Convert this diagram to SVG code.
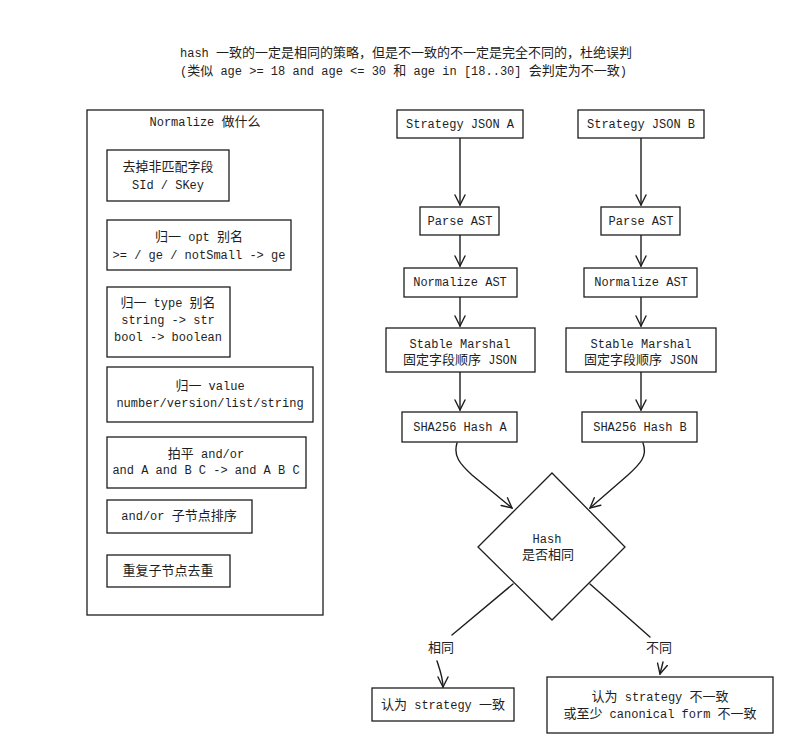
<svg xmlns="http://www.w3.org/2000/svg" width="794" height="754" viewBox="0 0 794 754">
<defs>
<style>
text{font-family:"Liberation Mono","Noto Sans CJK SC",monospace;font-size:12px;fill:#1e1e1e;}
.k{font-size:13px;}
.c{text-anchor:middle;}
.box{fill:#fff;stroke:#1e1e1e;stroke-width:1.3;}
.frame{fill:none;stroke:#1e1e1e;stroke-width:1.3;}
.edge{fill:none;stroke:#1e1e1e;stroke-width:1.4;stroke-linecap:round;}
.arr{marker-end:url(#ah);}
</style>
<marker id="ah" viewBox="0 0 12 12" refX="11" refY="6" markerWidth="12" markerHeight="12" markerUnits="userSpaceOnUse" orient="auto">
<path d="M1,1 L11,6 L1,11" fill="none" stroke="#1e1e1e" stroke-width="1.4" stroke-linecap="round"/>
</marker>
</defs>
<rect width="794" height="754" fill="#fff"/>

<g id="title">
<text x="180" y="57">hash <tspan class="k">一致的一定是相同的策略，但是不一致的不一定是完全不同的，杜绝误判</tspan></text>
<text x="180" y="75">(<tspan class="k">类似</tspan> age &gt;= 18 and age &lt;= 30 <tspan class="k">和</tspan> age in [18..30] <tspan class="k">会判定为不一致</tspan>)</text>
</g>

<g id="normalize-frame">
<rect class="frame" x="87" y="110" width="236" height="505"/>
<text class="c" x="205" y="126">Normalize <tspan class="k">做什么</tspan></text>
</g>
<g id="n1"><rect class="box" x="107" y="150" width="122" height="51"/><text class="c k" x="168" y="171">去掉非匹配字段</text><text class="c" x="168" y="189">SId / SKey</text></g>
<g id="n2"><rect class="box" x="107" y="220" width="184" height="50"/><text class="c" x="199" y="241"><tspan class="k">归一</tspan> opt <tspan class="k">别名</tspan></text><text class="c" x="199" y="259">&gt;= / ge / notSmall -&gt; ge</text></g>
<g id="n3"><rect class="box" x="107" y="287" width="123" height="70"/><text class="c" x="168" y="307"><tspan class="k">归一</tspan> type <tspan class="k">别名</tspan></text><text class="c" x="168" y="324">string -&gt; str</text><text class="c" x="168" y="341">bool -&gt; boolean</text></g>
<g id="n4"><rect class="box" x="107" y="367" width="206" height="55"/><text class="c" x="210" y="390"><tspan class="k">归一</tspan> value</text><text class="c" x="210" y="407">number/version/list/string</text></g>
<g id="n5"><rect class="box" x="107" y="437" width="199" height="51"/><text class="c" x="206" y="458"><tspan class="k">拍平</tspan> and/or</text><text class="c" x="206" y="474">and A and B C -&gt; and A B C</text></g>
<g id="n6"><rect class="box" x="107" y="500" width="145" height="33"/><text class="c" x="179" y="520">and/or <tspan class="k">子节点排序</tspan></text></g>
<g id="n7"><rect class="box" x="107" y="555" width="123" height="32"/><text class="c k" x="168" y="575">重复子节点去重</text></g>

<g id="connectors">
<path class="edge arr" d="M460,138 L460,205"/>
<path class="edge arr" d="M460,235 L460,266"/>
<path class="edge arr" d="M460,297 L460,326"/>
<path class="edge arr" d="M460,372 L460,410"/>
<path class="edge arr" d="M641,138 L641,205"/>
<path class="edge arr" d="M641,235 L641,266"/>
<path class="edge arr" d="M641,297 L641,326"/>
<path class="edge arr" d="M641,372 L641,410"/>
<path class="edge arr" d="M457,443 C453,456 460,464 472,475 L512,508"/>
<path class="edge arr" d="M643,443 C648,456 640,464 628,475 L590,508"/>
<path class="edge" d="M513,584 L452,635"/>
<path class="edge arr" d="M437,661 C440,670 443,678 443,687"/>
<path class="edge" d="M590,584 L650,637"/>
<path class="edge arr" d="M663,662 L660,674"/>
</g>

<g id="a1"><rect class="box" x="397" y="110" width="126" height="28"/><text class="c" x="460" y="128">Strategy JSON A</text></g>
<g id="a2"><rect class="box" x="420" y="207" width="79" height="28"/><text class="c" x="460" y="225">Parse AST</text></g>
<g id="a3"><rect class="box" x="404" y="268" width="113" height="29"/><text class="c" x="460" y="286">Normalize AST</text></g>
<g id="a4"><rect class="box" x="386" y="328" width="149" height="44"/><text class="c" x="460" y="348">Stable Marshal</text><text class="c" x="460" y="364"><tspan class="k">固定字段顺序</tspan> JSON</text></g>
<g id="a5"><rect class="box" x="402" y="412" width="115" height="30"/><text class="c" x="460" y="431">SHA256 Hash A</text></g>

<g id="b1"><rect class="box" x="578" y="110" width="126" height="28"/><text class="c" x="641" y="128">Strategy JSON B</text></g>
<g id="b2"><rect class="box" x="601" y="207" width="79" height="28"/><text class="c" x="641" y="225">Parse AST</text></g>
<g id="b3"><rect class="box" x="584" y="268" width="113" height="29"/><text class="c" x="641" y="286">Normalize AST</text></g>
<g id="b4"><rect class="box" x="566" y="328" width="150" height="44"/><text class="c" x="641" y="348">Stable Marshal</text><text class="c" x="641" y="364"><tspan class="k">固定字段顺序</tspan> JSON</text></g>
<g id="b5"><rect class="box" x="582" y="412" width="115" height="30"/><text class="c" x="640" y="431">SHA256 Hash B</text></g>

<g id="decision"><path class="box" d="M552,473 L625,547 L552,620 L478,547 Z"/><text class="c" x="547" y="543">Hash</text><text class="c k" x="548" y="559">是否相同</text></g>

<g id="labels">
<text class="c k" x="441" y="652">相同</text>
<text class="c k" x="659" y="652">不同</text>
</g>

<g id="r1"><rect class="box" x="372" y="688" width="142" height="33"/><text class="c" x="443" y="709"><tspan class="k">认为</tspan> strategy <tspan class="k">一致</tspan></text></g>
<g id="r2"><rect class="box" x="547" y="677" width="226" height="56"/><text class="c" x="660" y="701"><tspan class="k">认为</tspan> strategy <tspan class="k">不一致</tspan></text><text class="c" x="660" y="718"><tspan class="k">或至少</tspan> canonical form <tspan class="k">不一致</tspan></text></g>
</svg>
